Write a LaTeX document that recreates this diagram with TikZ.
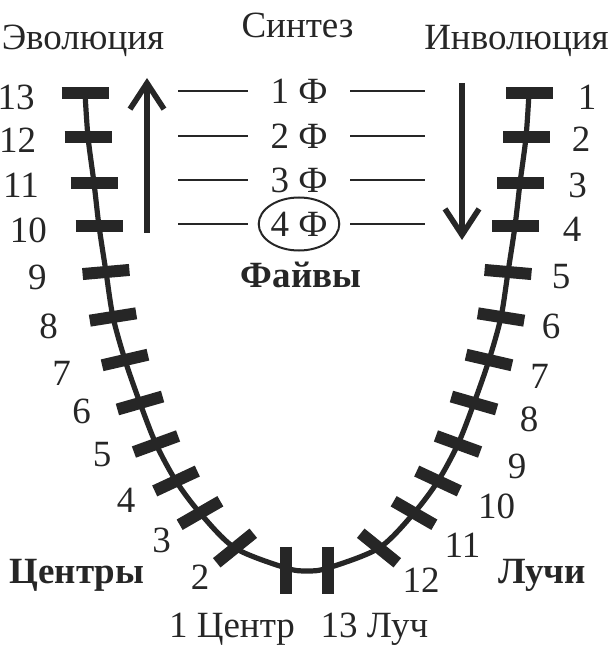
\documentclass[tikz,border=0pt]{standalone}
\usepackage{fontspec}
\setmainfont{Liberation Serif}
\usetikzlibrary{arrows.meta,shapes.geometric}

\begin{document}
\begin{tikzpicture}[
  x = 0.5pt, y = -0.5pt,
  ink/.style={black!85},
  ucurve/.style={ink,line width=2.6pt},
  notch/.style={ink,line width=6pt},
  rung/.style={ink,line width=1pt},
  flow/.style={ink,line width=2.8pt,-{Straight Barb[length=13pt,width=17pt]}},
  num/.style={inner sep=0pt,text=black!85,font=\fontsize{18.5}{22}\selectfont},
  headline/.style={num,anchor=base},
  heavy/.style={headline,font=\fontsize{18.5}{22}\selectfont\bfseries},
  phase/.style={num,minimum width=51pt}
  ]
  \useasboundingbox (0,0) rectangle (611,646);

	%the U curve
	\draw[ucurve] plot[smooth] coordinates {(85,93) (88,137) (94,183) (99,226) (106,272) (113,317) (125,360) (140,403) (156,444) (176,481) (200,513) (235,548) (286,568) (307,571) (328,568) (379,548) (414,513) (438,481) (458,444) (474,403) (489,360) (501,317) (508,272) (515,226) (520,183) (526,137) (529,93)};

	%draw the notches, left side and its mirror
	\foreach \x/\y/\a in {85/93/0, 88/137/0, 94/183/0, 99/226/0, 106/272/-5, 113/317/-9, 125/360/-13, 140/403/-16, 156/444/-20, 176/481/-25, 200/513/-30, 235/548/-39, 286/570/90}
	{
		\draw[notch] ({\x-23.5*cos(\a)},{\y-23.5*sin(\a)}) -- ({\x+23.5*cos(\a)},{\y+23.5*sin(\a)});
		\draw[notch] ({614-\x+23.5*cos(\a)},{\y-23.5*sin(\a)}) -- ({614-\x-23.5*cos(\a)},{\y+23.5*sin(\a)});
	}

	%numbers of the centres
	\foreach \n/\x/\y in {13/16/97, 12/17.5/140, 11/21/185.5, 10/28.5/230, 9/37.5/277.5, 8/48.5/326.5, 7/61.5/373.5, 6/81.5/411.5, 5/102/455, 4/126/500, 3/161.5/540.5, 2/200/577.5}
		\node[num] (L\n) at (\x,\y) {\n};
	%numbers of the rays
	\foreach \n/\x/\y in {1/587/97.5, 2/581/139.5, 3/577.5/185, 4/572/229.5, 5/561/276.5, 6/551/326.5, 7/539.5/376, 8/529/419, 9/517/466.5, 10/496.5/506, 11/462.5/545, 12/421/580}
		\node[num] (R\n) at (\x,\y) {\n};

	\node[headline] (evo) at (83,50) {Эволюция};
	\node[headline] (syn) at (297.5,38) {Синтез};
	\node[headline] (inv) at (516.5,50) {Инволюция};
	\node[heavy] (fives) at (301,287) {Файвы};
	\node[heavy] (centres) at (77,583) {Центры};
	\node[heavy] (rays) at (542,583) {Лучи};
	\node[headline] (c1) at (232,637) {1 Центр};
	\node[headline] (r13) at (374.5,637) {13 Луч};

	%the four phases
	\node[phase] (f1) at (299,91) {1 Ф};
	\node[phase] (f2) at (299,136) {2 Ф};
	\node[phase] (f3) at (299,180) {3 Ф};
	\node[num,ellipse,draw=black!85,line width=1pt,minimum width=39.5pt,minimum height=26.5pt,outer sep=5.5pt] (f4) at (299,224) {4 Ф};
	\foreach \i/\y in {1/91, 2/136, 3/180, 4/224}
	{
		\coordinate (a\i) at (178,\y);
		\coordinate (b\i) at (425,\y);
		\draw[rung] (a\i) -- (f\i) (f\i) -- (b\i);
	}

	%the arrows
	\coordinate (evoS) at (147,233);
	\coordinate (evoE) at (147,78);
	\coordinate (invS) at (462,83);
	\coordinate (invE) at (462,240);
	\draw[flow] (evoS) -- (evoE);
	\draw[flow] (invS) -- (invE);

\end{tikzpicture}
\end{document}
